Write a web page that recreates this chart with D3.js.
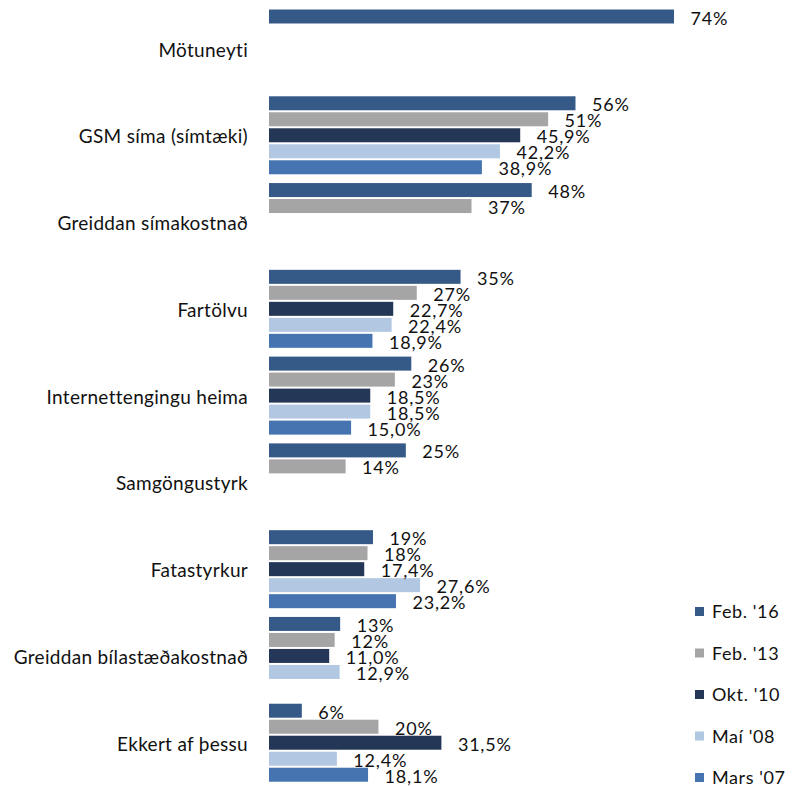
<!DOCTYPE html>
<html>
<head>
<meta charset="utf-8">
<script src="https://cdn.jsdelivr.net/npm/d3@7"></script>
<style>
  html, body { margin: 0; padding: 0; background: #fff; }
  svg { display: block; }
  text { font-family: Lato, "Open Sans", sans-serif; fill: #111; }
</style>
</head>
<body>
<svg id="chart" width="795" height="787"></svg>
<script>
// Categories (top to bottom)
const categories = [
  "Mötuneyti",
  "GSM síma (símtæki)",
  "Greiddan símakostnað",
  "Fartölvu",
  "Internettengingu heima",
  "Samgöngustyrk",
  "Fatastyrkur",
  "Greiddan bílastæðakostnað",
  "Ekkert af þessu"
];

// Survey waves
const seriesNames = ["Feb. '16", "Feb. '13", "Okt. '10", "Maí '08", "Mars '07"];
const seriesDecimals = [0, 0, 1, 1, 1];

// Percentages per wave, one value per category (null = not asked)
const feb16 = [74, 56, 48, 35, 26, 25, 19, 13, 6];
const feb13 = [null, 51, 37, 27, 23, 14, 18, 12, 20];
const okt10 = [null, 45.9, null, 22.7, 18.5, null, 17.4, 11.0, 31.5];
const mai08 = [null, 42.2, null, 22.4, 18.5, null, 27.6, 12.9, 12.4];
const mars07 = [null, 38.9, null, 18.9, 15.0, null, 23.2, null, 18.1];

const seriesValues = [feb16, feb13, okt10, mai08, mars07];
const colors = ["#355A88", "#A5A5A5", "#243757", "#B2C7E2", "#4574B0"];

const svg = d3.select("#chart");

const x = d3.scaleLinear().domain([0, 74]).range([269, 674]);
const y = d3.scaleBand().domain(categories).range([9.5, 790.5]).paddingInner(0).paddingOuter(0);
const ySub = d3.scaleBand().domain(seriesNames).range([-1, 79])
  .paddingInner(0.125).paddingOuter(0.0625);

const fmt = (v, dec) => v.toFixed(dec).replace(".", ",") + "%";

const rows = [];
categories.forEach((c, i) => {
  seriesNames.forEach((s, j) => {
    const v = seriesValues[j][i];
    if (v !== null) rows.push({ cat: c, series: s, j, v });
  });
});

const g = svg.append("g");

g.selectAll("rect.bar")
  .data(rows)
  .join("rect")
  .attr("class", "bar")
  .attr("x", x(0))
  .attr("y", d => y(d.cat) + ySub(d.series))
  .attr("width", d => x(d.v) - x(0))
  .attr("height", ySub.bandwidth())
  .attr("fill", d => colors[d.j]);

g.selectAll("text.val")
  .data(rows)
  .join("text")
  .attr("class", "val")
  .attr("x", d => x(d.v) + 16.5)
  .attr("y", d => y(d.cat) + ySub(d.series) + ySub.bandwidth() + 1)
  .attr("font-size", 18)
  .attr("letter-spacing", 0.8)
  .text(d => fmt(d.v, seriesDecimals[d.j]));

// Category labels
g.selectAll("text.cat")
  .data(categories)
  .join("text")
  .attr("class", "cat")
  .attr("x", 248)
  .attr("y", d => y(d) + 47)
  .attr("text-anchor", "end")
  .attr("font-size", 19)
  .attr("letter-spacing", 0.3)
  .text(d => d);

// Legend
const legend = svg.append("g").attr("transform", "translate(695,607)");
const li = legend.selectAll("g")
  .data(seriesNames)
  .join("g")
  .attr("transform", (d, i) => `translate(0,${i * 41.5})`);
li.append("rect").attr("width", 9).attr("height", 9).attr("fill", (d, i) => colors[i]);
li.append("text").attr("x", 17).attr("y", 11).attr("font-size", 18)
  .attr("letter-spacing", 0.6).text(d => d);
</script>
</body>
</html>
